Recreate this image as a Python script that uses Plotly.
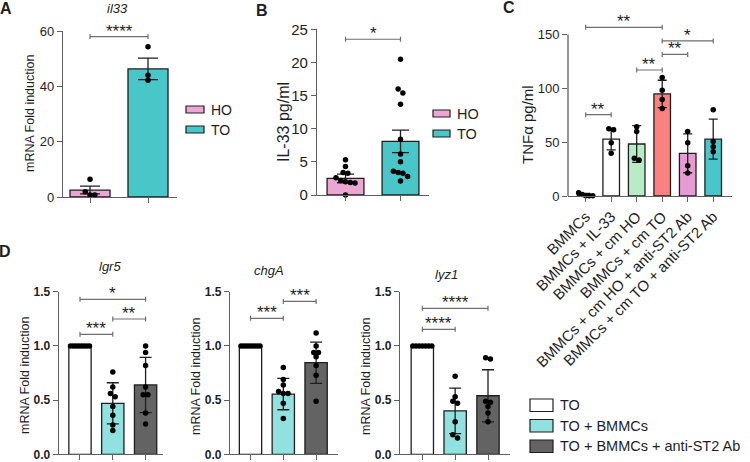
import plotly.graph_objects as go

FONT = "Liberation Sans, Arial, sans-serif"
INK = "#1e1e1e"
AXIS = "#5f5f5f"
BRK = "#6e6e6e"
W, H = 750, 462

# ---------- A: il33 mRNA ----------
A_groups = ["HO", "TO"]
A_mean = [2.5, 46.3]
A_sem = [1.4, 3.9]
A_points = [[6.4, 1.9, 0.7, 0.7], [54.3, 44.0, 42.2]]
A_sig = [(0, 1, 58.0, "****")]
A_colors = ["#eca6d4", "#48c6c8"]

# ---------- B: IL-33 protein ----------
B_groups = ["HO", "TO"]
B_mean = [2.5, 8.1]
B_sem = [0.65, 1.7]
B_points = [[5.3, 4.3, 3.4, 3.3, 2.6, 2.2, 2.0, 1.9, 1.8, 0.0],
            [20.5, 16.0, 15.4, 13.7, 8.4, 6.2, 5.0, 3.6, 3.4, 3.3, 2.8, 2.1]]
B_sig = [(0, 1, 23.5, "*")]

# ---------- C: TNFa ----------
C_groups = ["BMMCs", "BMMCs + IL-33", "BMMCs + cm HO", "BMMCs + cm TO",
            "BMMCs + cm HO + anti-ST2 Ab", "BMMCs + cm TO + anti-ST2 Ab"]
C_mean = [1.0, 52.8, 48.3, 94.8, 39.6, 52.8]
C_sd = [1.3, 10.0, 17.0, 12.7, 18.0, 18.6]
C_points = [[3.1, 1.5, 0.3, 0.2, 0.2],
            [62.5, 61.5, 49.5, 39.7],
            [64.4, 59.8, 35.0, 33.5],
            [110.0, 98.3, 89.6, 81.3],
            [60.0, 49.5, 28.2, 21.4],
            [80.0, 50.6, 45.7, 41.0]]
C_sig = [(0, 1, 75.5, "**"), (2, 3, 117.0, "**"), (3, 4, 131.5, "**"),
         (3, 5, 144.0, "*"), (0, 3, 156.6, "**")]
C_colors = ["#ffffff", "#ffffff", "#b6ecc6", "#fb8080", "#e69bd2", "#48c6ca"]

# ---------- D: organoid markers ----------
D_groups = ["TO", "TO + BMMCs", "TO + BMMCs + anti-ST2 Ab"]
D_colors = ["#ffffff", "#92e1e1", "#636363"]

lgr5_mean = [1.0, 0.47, 0.64]
lgr5_sd = [0.0, 0.19, 0.255]
lgr5_points = [[1.0, 1.0, 1.0, 1.0, 1.0, 1.0, 1.0, 1.0],
               [0.76, 0.62, 0.56, 0.53, 0.44, 0.36, 0.27, 0.22],
               [1.0, 0.94, 0.82, 0.62, 0.55, 0.55, 0.38, 0.28]]
lgr5_sig = [(0, 1, 1.107, "***"), (1, 2, 1.248, "**"), (0, 2, 1.43, "*")]

chgA_mean = [1.0, 0.556, 0.845]
chgA_sd = [0.0, 0.145, 0.19]
chgA_points = [[1.0, 1.0, 1.0, 1.0, 1.0, 1.0, 1.0, 1.0],
               [0.80, 0.69, 0.64, 0.58, 0.56, 0.56, 0.47, 0.33],
               [1.12, 1.0, 0.94, 0.94, 0.90, 0.82, 0.73, 0.49]]
chgA_sig = [(0, 1, 1.254, "***"), (1, 2, 1.41, "***")]

lyz1_mean = [1.0, 0.40, 0.54]
lyz1_sd = [0.0, 0.21, 0.24]
lyz1_points = [[1.0, 1.0, 1.0, 1.0, 1.0, 1.0, 1.0],
               [0.72, 0.53, 0.49, 0.47, 0.30, 0.18, 0.15],
               [0.89, 0.88, 0.49, 0.48, 0.44, 0.38, 0.30]]
lyz1_sig = [(0, 1, 1.153, "****"), (0, 2, 1.347, "****")]


def px(x):
    return x / W


def py(y):
    return 1 - y / H


def spread(values, y_ppu, x_ppu, max_px, dot=5.0):
    # simple beeswarm: points closer than a dot get laid out side by side
    order = sorted(range(len(values)), key=lambda k: -values[k])
    offs = [0.0] * len(values)
    clusters = []
    for k in order:
        if clusters and abs(values[clusters[-1][-1]] - values[k]) * y_ppu < dot * 0.8:
            clusters[-1].append(k)
        else:
            clusters.append([k])
    for cl in clusters:
        n = len(cl)
        if n == 1:
            continue
        step = min(dot * 0.95, max_px / (n - 1))
        for i, k in enumerate(cl):
            offs[k] = (i - (n - 1) / 2) * step / x_ppu
    return offs


fig = go.Figure()


def panel(sfx, geo, means, errs, points, colors, bw, cap, sig, ticks, tickfont,
          ticktext=None, ymax_draw=None):
    x0, x1, ybot, ytop, xr, yr = geo
    xa, ya = "x" + sfx, "y" + sfx
    xkey, ykey = "xaxis" + sfx, "yaxis" + sfx
    n = len(means)
    xs = list(range(n))
    y_ppu = (ybot - ytop) / (yr[1] - yr[0])
    x_ppu = (x1 - x0) / (xr[1] - xr[0])

    fig.add_trace(go.Bar(
        x=xs, y=means, width=bw, xaxis=xa, yaxis=ya,
        marker=dict(color=colors, line=dict(color=INK, width=1.3)),
        error_y=dict(type="data", array=errs, color=INK, thickness=1.3, width=cap),
        hoverinfo="skip",
    ))
    for i, vals in enumerate(points):
        offs = spread(vals, y_ppu, x_ppu, bw * x_ppu * 0.85)
        fig.add_trace(go.Scatter(
            x=[i + o for o in offs], y=vals, xaxis=xa, yaxis=ya, mode="markers",
            marker=dict(color="black", size=5.5), cliponaxis=False, hoverinfo="skip",
        ))

    for (i, j, level, label) in sig:
        fig.add_shape(type="line", xref=xa, yref=ya, x0=i, x1=j, y0=level, y1=level,
                      line=dict(color=BRK, width=1.2))
        for xe in (i, j):
            fig.add_shape(type="line", xref=xa, yref=ya, ysizemode="pixel", yanchor=level,
                          x0=xe, x1=xe, y0=-2.5, y1=2.5, line=dict(color=BRK, width=1.2))
        fig.add_annotation(xref=xa, yref=ya, x=(i + j) / 2, y=level, text=label,
                           showarrow=False, xanchor="center", yanchor="bottom", yshift=-6,
                           font=dict(family=FONT, size=17, color=INK))

    common = dict(showgrid=False, zeroline=False, showline=True, linecolor=AXIS, linewidth=1.3,
                  ticks="outside", tickcolor=AXIS, tickwidth=1.3, ticklen=5, fixedrange=True,
                  automargin=False)
    xaxis = dict(common, domain=[px(x0), px(x1)], range=xr, anchor=ya,
                 tickvals=xs, showticklabels=ticktext is not None)
    if ticktext is not None:
        xaxis.update(ticktext=ticktext, tickangle=-45, tickfont=dict(family=FONT, size=15, color=INK))
    yaxis = dict(common, domain=[py(ybot), py(ytop)], range=yr, anchor=xa,
                 tickvals=ticks, tickfont=tickfont)
    if ymax_draw is not None:
        yaxis["showline"] = False
        fig.add_shape(type="line", xref=xa + " domain", yref=ya, x0=0, x1=0, y0=0, y1=ymax_draw,
                      line=dict(color=AXIS, width=1.3))
    fig.update_layout(**{xkey: xaxis, ykey: yaxis})


tf13 = dict(family=FONT, size=13, color=INK)
tfD = dict(family=FONT, size=12, color=INK, weight="bold")

# A
panel("", (63, 177, 197, 31, [-0.466, 1.5], [0, 60]), A_mean, A_sem, A_points, A_colors,
      0.69, 10, A_sig, [0, 20, 40, 60], tf13)
# B
panel("2", (317, 429, 195, 29.3, [-0.518, 1.518], [0, 25]), B_mean, B_sem, B_points, A_colors,
      0.67, 8.5, B_sig, [0, 5, 10, 15, 20, 25], dict(family=FONT, size=15, color=INK))
# C
panel("3", (568, 731.7, 196, 23.7, [-0.694, 5.725], [0, 160]), C_mean, C_sd, C_points, C_colors,
      0.65, 4.5, C_sig, [0, 50, 100, 150], tf13, ticktext=C_groups, ymax_draw=150)
# D
panel("4", (58.7, 163.3, 454.3, 291.7, [-0.649, 2.54], [0, 1.5]), lgr5_mean, lgr5_sd, lgr5_points,
      D_colors, 0.68, 6, lgr5_sig, [0, 0.5, 1.0, 1.5], tfD)
panel("5", (230, 338.3, 454.3, 291.7, [-0.625, 2.677], [0, 1.5]), chgA_mean, chgA_sd, chgA_points,
      D_colors, 0.68, 6, chgA_sig, [0, 0.5, 1.0, 1.5], tfD)
panel("6", (400, 510, 454.3, 291.7, [-0.68, 2.67], [0, 1.5]), lyz1_mean, lyz1_sd, lyz1_points,
      D_colors, 0.68, 6, lyz1_sig, [0, 0.5, 1.0, 1.5], tfD)
for k in ("yaxis4", "yaxis5", "yaxis6"):
    fig.layout[k].tickformat = ".1f"


def text(x, y, s, size, xanchor="center", **kw):
    fig.add_annotation(xref="paper", yref="paper", x=px(x), y=py(y), text=s, showarrow=False,
                       xanchor=xanchor, yanchor="middle",
                       font=dict(family=FONT, size=size, color=INK), **kw)


# panel letters
for (lx, ly, s) in [(6, 9, "A"), (262, 10, "B"), (509, 8, "C"), (5, 252, "D")]:
    text(lx, ly, "<b>%s</b>" % s, 16)

# titles
text(117, 9, "<i>il33</i>", 13)
text(110, 266, "<i>lgr5</i>", 13)
text(268.5, 270, "<i>chgA</i>", 13)
text(446.5, 274, "<i>lyz1</i>", 13)

# y-axis titles
text(30, 114, "mRNA Fold induction", 12.5, textangle=-90)
text(283, 122, "IL-33 pg/ml", 16, textangle=-90)
text(527, 125, "TNFα pg/ml", 15, textangle=-90)
text(25, 376, "mRNA Fold induction", 12.5, textangle=-90)
text(196, 376, "mRNA Fold induction", 12.5, textangle=-90)
text(366, 377, "mRNA Fold induction", 12.5, textangle=-90)


# legends
def legend_item(bx0, bx1, by0, by1, color, label, size):
    fig.add_shape(type="rect", xref="paper", yref="paper", x0=px(bx0), x1=px(bx1),
                  y0=py(by1), y1=py(by0), fillcolor=color, line=dict(color=INK, width=1.2))
    text(bx1 + 5, (by0 + by1) / 2, label, size, xanchor="left")


for k, g in enumerate(A_groups):
    legend_item(186, 204, 106 + 20 * k, 113 + 20 * k, A_colors[k], g, 14)
for k, g in enumerate(B_groups):
    legend_item(433, 450, 110 + 20 * k, 117 + 20 * k, A_colors[k], g, 14.5)
for k, g in enumerate(D_groups):
    legend_item(530, 553, 399 + 20.5 * k, 411.5 + 20.5 * k, D_colors[k], g, 14.5)

fig.update_layout(
    width=W, height=H, margin=dict(l=0, r=0, t=0, b=0, pad=0, autoexpand=False),
    paper_bgcolor="white", plot_bgcolor="white", showlegend=False,
    font=dict(family=FONT, color=INK),
)

# page body has a default 8px margin; drop it so the figure sits at the window origin
fig.write_html("out.html", config={"displayModeBar": False},
               post_script="document.body.style.margin='0';document.body.style.overflow='hidden';")
